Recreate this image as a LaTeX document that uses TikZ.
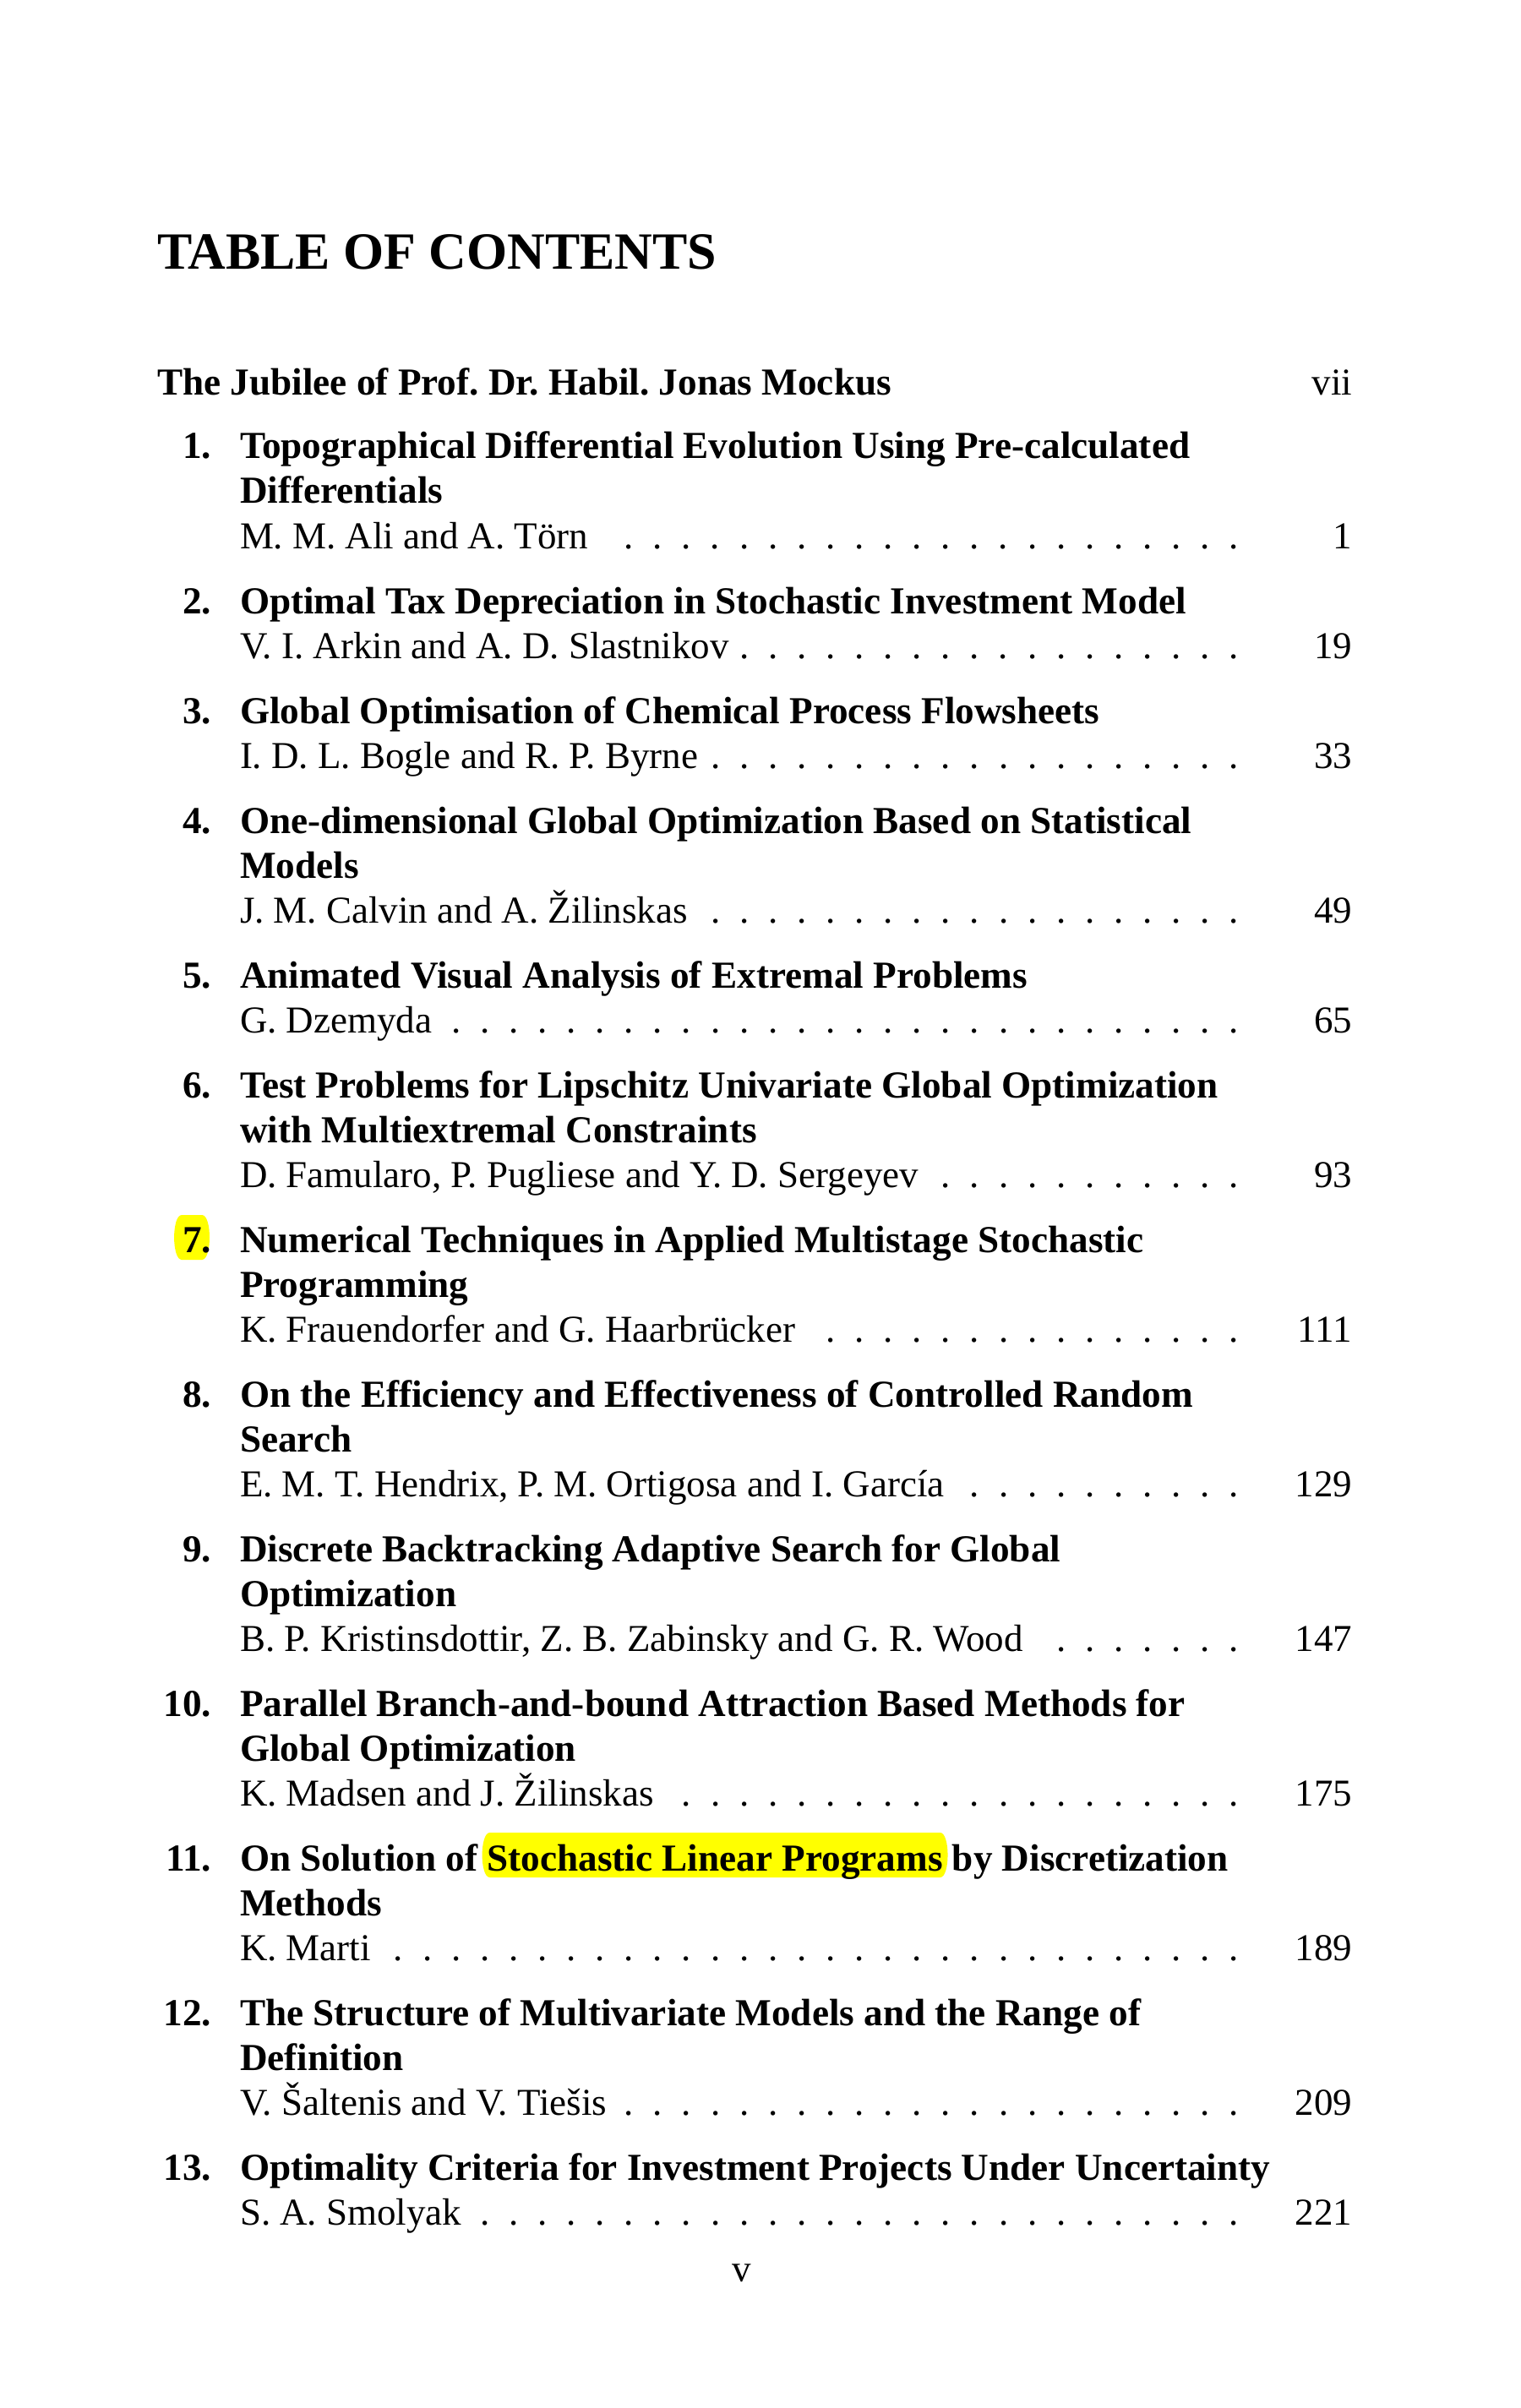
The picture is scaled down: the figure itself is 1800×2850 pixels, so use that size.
\documentclass[tikz,border=0pt]{standalone}
\usepackage{fontspec}
\setmainfont{Liberation Serif}
\usetikzlibrary{calc,backgrounds}
\definecolor{hlyellow}{RGB}{255,255,0}
\newcommand\ttlfont{\frenchspacing\bfseries\fontsize{12.86}{15}\selectfont}
\newcommand\autfont{\frenchspacing\fontsize{12.8}{15}\selectfont}
\newcommand\headfont{\bfseries\fontsize{17.6}{20}\selectfont}
\newcommand\dotrow[1]{\hbox to 119.35mm{#1\leaders\hbox to 3.41mm{\hss.\hss}\hfill}}
\newlength\wordsp
\newlength\wordtmp
\newcommand\pill[2]{\fill[hl] let \p1=(#1), \p2=(#2) in
  (\x1+0.9mm,\y1) -- (\x2-0.9mm,\y1) .. controls (\x2+0.3mm,\y1) and (\x2+0.3mm,\y2) .. (\x2-0.9mm,\y2)
  -- (\x1+0.9mm,\y2) .. controls (\x1-0.3mm,\y2) and (\x1-0.3mm,\y1) .. (\x1+0.9mm,\y1) -- cycle;}
\tikzset{
  pg/.style={inner sep=0pt, outer sep=0pt},
  ttl/.style={pg, anchor=base west, font=\ttlfont},
  aut/.style={pg, anchor=base west, font=\autfont},
  num/.style={pg, anchor=base east, font=\ttlfont},
  pno/.style={pg, anchor=base east, font=\autfont},
  hl/.style={fill=hlyellow}
}
\begin{document}
\settowidth\wordsp{\ttlfont a a}%
\settowidth\wordtmp{\ttlfont aa}%
\addtolength\wordsp{-\wordtmp}%
\begin{tikzpicture}[x=0.1mm, y=-0.1mm]
\begin{scope}[on background layer]
\fill[white] (0,0) rectangle (1800,2850);
\end{scope}
\useasboundingbox (0,0) rectangle (1800,2850);

\node[pg, anchor=base west, font=\headfont] (head) at (186,319) {TABLE OF CONTENTS};

\node[ttl] (jub) at (186,468) {The Jubilee of Prof. Dr. Habil. Jonas Mockus};
\node[pno] (pjub) at (1600,468) {vii};

% 1
\node[num] (n1) at (250,543) {1.};
\node[ttl] (t1a) at (284,543) {Topographical Differential Evolution Using Pre-calculated};
\node[ttl] (t1b) at (284,596) {Differentials};
\node[aut] (a1) at (284,649) {\dotrow{M. M. Ali and A. Törn}};
\node[pno] (p1) at (1600,649) {1};
% 2
\node[num] (n2) at (250,726) {2.};
\node[ttl] (t2a) at (284,726) {Optimal Tax Depreciation in Stochastic Investment Model};
\node[aut] (a2) at (284,779) {\dotrow{V. I. Arkin and A. D. Slastnikov}};
\node[pno] (p2) at (1600,779) {19};
% 3
\node[num] (n3) at (250,856) {3.};
\node[ttl] (t3a) at (284,856) {Global Optimisation of Chemical Process Flowsheets};
\node[aut] (a3) at (284,909) {\dotrow{I. D. L. Bogle and R. P. Byrne}};
\node[pno] (p3) at (1600,909) {33};
% 4
\node[num] (n4) at (250,986) {4.};
\node[ttl] (t4a) at (284,986) {One-dimensional Global Optimization Based on Statistical};
\node[ttl] (t4b) at (284,1039) {Models};
\node[aut] (a4) at (284,1092) {\dotrow{J. M. Calvin and A. Žilinskas}};
\node[pno] (p4) at (1600,1092) {49};
% 5
\node[num] (n5) at (250,1169) {5.};
\node[ttl] (t5a) at (284,1169) {Animated Visual Analysis of Extremal Problems};
\node[aut] (a5) at (284,1222) {\dotrow{G. Dzemyda}};
\node[pno] (p5) at (1600,1222) {65};
% 6
\node[num] (n6) at (250,1299) {6.};
\node[ttl] (t6a) at (284,1299) {Test Problems for Lipschitz Univariate Global Optimization};
\node[ttl] (t6b) at (284,1352) {with Multiextremal Constraints};
\node[aut] (a6) at (284,1405) {\dotrow{D. Famularo, P. Pugliese and Y. D. Sergeyev}};
\node[pno] (p6) at (1600,1405) {93};
% 7
\node[num] (n7) at (250,1482) {7.};
\node[ttl] (t7a) at (284,1482) {Numerical Techniques in Applied Multistage Stochastic};
\node[ttl] (t7b) at (284,1535) {Programming};
\node[aut] (a7) at (284,1588) {\dotrow{K. Frauendorfer and G. Haarbrücker}};
\node[pno] (p7) at (1600,1588) {111};
% 8
\node[num] (n8) at (250,1665) {8.};
\node[ttl] (t8a) at (284,1665) {On the Efficiency and Effectiveness of Controlled Random};
\node[ttl] (t8b) at (284,1718) {Search};
\node[aut] (a8) at (284,1771) {\dotrow{E. M. T. Hendrix, P. M. Ortigosa and I. García}};
\node[pno] (p8) at (1600,1771) {129};
% 9
\node[num] (n9) at (250,1848) {9.};
\node[ttl] (t9a) at (284,1848) {Discrete Backtracking Adaptive Search for Global};
\node[ttl] (t9b) at (284,1901) {Optimization};
\node[aut] (a9) at (284,1954) {\dotrow{B. P. Kristinsdottir, Z. B. Zabinsky and G. R. Wood}};
\node[pno] (p9) at (1600,1954) {147};
% 10
\node[num] (n10) at (250,2031) {10.};
\node[ttl] (t10a) at (284,2031) {Parallel Branch-and-bound Attraction Based Methods for};
\node[ttl] (t10b) at (284,2084) {Global Optimization};
\node[aut] (a10) at (284,2137) {\dotrow{K. Madsen and J. Žilinskas}};
\node[pno] (p10) at (1600,2137) {175};
% 11
\node[num] (n11) at (250,2214) {11.};
\node[ttl] (t11a) at (284,2214) {On Solution of};
\node[ttl] (t11b) at ($(t11a.base east)+(\wordsp,0pt)$) {Stochastic Linear Programs};
\node[ttl] (t11c) at ($(t11b.base east)+(\wordsp,0pt)$) {by Discretization};
\node[ttl] (t11d) at (284,2267) {Methods};
\node[aut] (a11) at (284,2320) {\dotrow{K. Marti}};
\node[pno] (p11) at (1600,2320) {189};
% 12
\node[num] (n12) at (250,2397) {12.};
\node[ttl] (t12a) at (284,2397) {The Structure of Multivariate Models and the Range of};
\node[ttl] (t12b) at (284,2450) {Definition};
\node[aut] (a12) at (284,2503) {\dotrow{V. Šaltenis and V. Tiešis}};
\node[pno] (p12) at (1600,2503) {209};
% 13
\node[num] (n13) at (250,2580) {13.};
\node[ttl] (t13a) at (284,2580) {Optimality Criteria for Investment Projects Under Uncertainty};
\node[aut] (a13) at (284,2633) {\dotrow{S. A. Smolyak}};
\node[pno] (p13) at (1600,2633) {221};

\node[pg, anchor=base, font=\autfont] (folio) at (878,2700) {v};

\begin{scope}[on background layer]
\pill{$(n7.base west)+(-10,-44)$}{$(n7.base east)+(-2,9)$}
\pill{$(t11b.base west)+(-6,-45)$}{$(t11b.base east)+(6,8)$}
\end{scope}
\end{tikzpicture}
\end{document}
